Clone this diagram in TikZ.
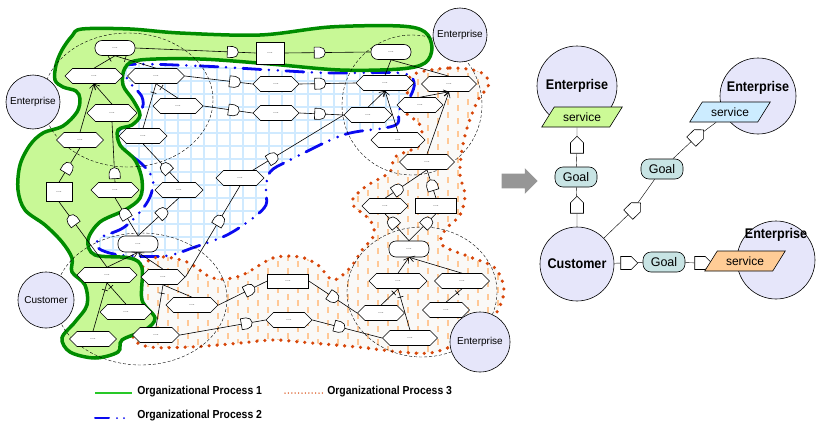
\documentclass[tikz,border=0pt]{standalone}
\usepackage{fontspec}
\setmainfont{Liberation Sans}
\newfontfamily\narrowsf[FakeStretch=0.9]{Liberation Sans}
\usetikzlibrary{arrows.meta,positioning,calc,shapes.geometric,shapes.misc,shapes.symbols,shapes.arrows,backgrounds}

\definecolor{opgreen}{RGB}{0,140,0}
\definecolor{opgreenfill}{RGB}{200,248,150}
\definecolor{legendgreen}{RGB}{40,200,40}
\definecolor{opblue}{RGB}{10,10,240}
\definecolor{gridblue}{RGB}{208,234,255}
\definecolor{opred}{RGB}{215,70,10}
\definecolor{dashorange}{RGB}{255,200,150}
\definecolor{hatchbg}{RGB}{250,249,247}
\definecolor{entfill}{RGB}{230,230,250}
\definecolor{goalfill}{RGB}{200,228,228}
\definecolor{srvgreen}{RGB}{204,250,150}
\definecolor{srvblue}{RGB}{204,236,255}
\definecolor{srvorange}{RGB}{255,204,150}
\definecolor{arrowgray}{RGB}{150,150,150}
\definecolor{dotgray}{RGB}{90,90,90}

\tikzset{
  hexblk/.style={draw,fill=white,signal,signal to=east and west,minimum width=48pt,minimum height=15pt,inner sep=0pt,font=\fontsize{7}{7}\selectfont,text=dotgray},
  rndblk/.style={draw,fill=white,rectangle,rounded corners=7pt,minimum width=40pt,minimum height=15pt,inner sep=0pt,font=\fontsize{7}{7}\selectfont,text=dotgray},
  sqblk/.style={draw,fill=white,rectangle,minimum width=41pt,minimum height=14pt,inner sep=0pt,font=\fontsize{7}{7}\selectfont,text=dotgray},
  gateblk/.style={draw,fill=white,rounded rectangle,rounded rectangle left arc=none,minimum width=8pt,minimum height=11pt,inner sep=0pt,sloped,allow upside down},
  tckmark/.style={draw,rectangle,minimum width=0pt,minimum height=6pt,inner sep=0pt,sloped},
  entnode/.style={circle,draw,fill=entfill,inner sep=0pt,minimum size=54pt,font=\fontsize{10}{12}\selectfont},
  entbig/.style={circle,draw,fill=entfill,inner sep=0pt,minimum size=80pt,font=\narrowsf\bfseries\fontsize{14}{16}\selectfont},
  entlbl/.style={font=\narrowsf\bfseries\fontsize{14}{16}\selectfont,inner sep=0pt},
  srvblk/.style={draw,trapezium,trapezium left angle=58,trapezium right angle=122,minimum height=20pt,inner ysep=1pt,inner xsep=-4pt,font=\fontsize{12}{14}\selectfont},
  goalblk/.style={draw,fill=goalfill,rectangle,rounded corners=8pt,minimum width=42pt,minimum height=20pt,inner sep=0pt,font=\fontsize{12.5}{14}\selectfont},
  pentblk/.style={draw,fill=white,signal,signal to=east,minimum width=17pt,minimum height=13pt,inner sep=0pt},
  arr/.style={-{Straight Barb[length=5pt,width=6pt]}},
  legtxt/.style={anchor=west,inner sep=0pt,font=\narrowsf\bfseries\fontsize{11.6}{14}\selectfont}
}

\def\greenregion{plot[smooth cycle,tension=0.55] coordinates {(82,29) (130,29) (180,33) (260,35) (330,27) (400,26) (425,32) (432,48) (425,63) (400,69) (340,70) (270,64) (200,59) (140,60) (125,68) (123,85) (133,100) (140,115) (132,125) (118,130) (120,145) (135,160) (142,180) (140,198) (125,210) (100,222) (88,240) (95,255) (130,258) (142,268) (142,300) (155,318) (145,330) (122,340) (118,352) (95,358) (70,352) (62,338) (75,322) (87,305) (85,285) (72,272) (72,258) (62,242) (45,225) (25,210) (18,190) (20,165) (30,145) (43,133) (63,126) (77,112) (80,99) (76,91) (63,87) (55,80) (56,65) (62,50) (72,36)}}
\def\blueregion{plot[smooth cycle,tension=0.55] coordinates {(127,65) (200,66) (270,70) (330,73) (400,73) (414,82) (410,97) (399,110) (398,123) (385,128) (343,135) (290,160) (270,172) (266,190) (266,205) (253,218) (227,235) (195,247) (165,256) (120,255) (98,248) (100,238) (123,228) (140,212) (150,197) (153,180) (143,165) (122,148) (115,135) (140,112) (142,97) (128,80)}}
\def\orangeregion{plot[smooth cycle,tension=0.55] coordinates {(412,75) (450,68) (480,72) (489,84) (478,100) (468,125) (462,150) (460,175) (465,195) (460,215) (445,230) (442,245) (470,257) (495,268) (504,290) (497,312) (483,332) (455,345) (430,353) (400,352) (357,347) (300,342) (273,340) (230,344) (190,347) (150,347) (133,337) (134,300) (142,268) (158,257) (187,262) (213,278) (240,276) (273,258) (300,257) (318,265) (333,280) (350,268) (362,250) (374,235) (370,220) (352,203) (365,187) (390,172) (395,157) (420,145) (420,125) (403,110) (407,95)}}

\begin{document}
\begin{tikzpicture}[x=1pt,y=-1pt,line width=0.6pt]
  \useasboundingbox (0,0) rectangle (816,423);

  % enterprise / customer circles
  \node[entnode] (entl) at (33,102) {Enterprise};
  \node[entnode] (entt) at (460,35) {Enterprise};
  \node[entnode,minimum size=60pt] (entb) at (480,342) {Enterprise};
  \node[entnode,minimum size=56pt] (custl) at (46,300) {Customer};

  % top band
  \node[rndblk] (r1) at (115,48) {...};
  \node[sqblk,minimum width=28pt,minimum height=22pt] (sq1) at (270,53) {...};
  \node[rndblk] (r2) at (391,52) {...};
  \node[hexblk,minimum width=58pt] (h1) at (94,76) {...};
  \node[hexblk,minimum width=57pt] (h2) at (156,76) {...};
  \node[hexblk,minimum width=46pt] (h3) at (276,84) {...};
  \node[hexblk,minimum width=58pt] (h4) at (385,83) {...};
  \node[hexblk,minimum width=50pt] (h5) at (178,106) {...};
  \node[hexblk,minimum width=46pt] (h6) at (276,113) {...};
  \node[hexblk] (h7) at (368,115) {...};
  \node[hexblk,minimum width=50pt,minimum height=17pt] (h8) at (112,113) {...};
  \node[hexblk,minimum width=47pt] (h9) at (80,140) {...};
  \node[hexblk] (h10) at (143,136) {...};
  \node[sqblk,minimum width=26pt,minimum height=19pt] (s1) at (59,192) {...};
  \node[hexblk] (h11) at (115,190) {...};
  \node[hexblk] (h13) at (179,190) {...};
  \node[hexblk] (h14) at (240,178) {...};
  \node[rndblk,minimum height=16pt] (r3) at (138,244) {...};

  % lower left
  \node[hexblk,minimum width=60pt] (h12) at (107,275) {...};
  \node[hexblk,minimum width=44pt] (h16) at (163,277) {...};
  \node[hexblk,minimum width=52pt] (h17) at (126,312) {...};
  \node[hexblk,minimum width=47pt] (h18) at (93,339) {...};
  \node[hexblk,minimum width=52pt] (h19) at (192,305) {...};
  \node[hexblk,minimum width=47pt] (h20) at (156,335) {...};
  \node[sqblk] (s2) at (288,281) {...};
  \node[hexblk,minimum width=46pt] (h22) at (289,320) {...};

  % right cluster
  \node[hexblk,minimum width=55pt] (h29) at (449,84) {...};
  \node[hexblk,minimum width=46pt] (h30) at (420,105) {...};
  \node[hexblk,minimum width=54pt] (h31) at (398,140) {...};
  \node[hexblk,minimum width=55pt] (h28) at (427,162) {...};
  \node[hexblk,minimum width=46pt] (h24) at (385,206) {...};
  \node[sqblk,minimum height=15pt] (s3) at (436,206) {...};
  \node[rndblk,minimum height=16pt] (r4) at (409,249) {...};
  \node[hexblk,minimum width=58pt] (h25) at (398,281) {...};
  \node[hexblk,minimum width=55pt] (h26) at (462,281) {...};
  \node[hexblk,minimum width=47pt] (h27) at (446,310) {...};
  \node[hexblk,minimum width=47pt] (h21) at (381,313) {...};
  \node[hexblk,minimum width=55pt] (h23) at (410,338) {...};

  % chains with gates
  \draw (r1.east) -- node[gateblk,pos=0.81]{} (sq1.west);
  \draw (sq1.east) -- node[gateblk,pos=0.41]{} (r2.west);
  \draw (h2.east) -- node[gateblk,pos=0.74]{} (h3.west);
  \draw (h3.east) -- node[gateblk,pos=0.37]{} (h4.west);
  \draw (h5.east) -- node[gateblk,pos=0.62]{} (h6.west);
  \draw (h6.east) -- node[gateblk,pos=0.47]{} (h7.west);
  \draw (h14) -- node[gateblk,pos=0.22]{} (h7.west);
  \draw (s1.north) -- node[gateblk,pos=0.42]{} (h9.south);
  \draw (h12.north) -- node[gateblk,pos=0.72]{} (s1.south);
  \draw (h11.north) -- node[gateblk,pos=0.15]{} (h8.south);
  \draw (r3.north) -- node[gateblk,pos=0.58]{} (h11.south);
  \draw (r3.north) -- node[gateblk,pos=0.6]{} (h13.south);
  \draw (h13.north) -- node[gateblk,pos=0.37]{} (h10.south);
  \draw (h16.east) -- node[gateblk,pos=0.62]{} (h14.south);
  \draw (h19.east) -- node[gateblk,pos=0.64]{} (s2.west);
  \draw (s2.east) -- node[gateblk,pos=0.51]{} (h21.west);
  \draw (h20.east) -- node[gateblk,pos=0.78]{} (h22.west);
  \draw (h22.east) -- node[gateblk,pos=0.39]{} (h23.west);
  \draw (h24.north) -- node[gateblk,pos=0.31]{} (h28.south);
  \draw (s3.north) -- node[gateblk,pos=0.46]{} (h28.south);
  \draw (r4.north) -- node[gateblk,pos=0.68]{} (h24.south);
  \draw (r4.north) -- node[gateblk,pos=0.68]{} (s3.south);

  % decomposition links
  \draw (h1.north) -- node[tckmark,pos=0.75]{} (r1.south);
  \draw (h2.north) -- node[tckmark,pos=0.75]{} (r1.south);
  \draw (h10.north) -- node[tckmark,pos=0.8]{} (h2.south);
  \draw (h5.north) -- node[tckmark,pos=0.75]{} (h2.south);
  \draw (h4.north) -- (r2.south);
  \draw (h29.north) -- (r2.south);
  \draw (h17.north) -- node[tckmark,pos=0.8]{} (h12.south);
  \draw (h18.north) -- node[tckmark,pos=0.85]{} (h12.south);
  \draw (h19.north) -- (h16.south);
  \draw (h20.north) -- node[tckmark,pos=0.8]{} (h16.south);
  \draw (h21.north) -- node[tckmark,pos=0.75]{} (h25.south);
  \draw (h23.north) -- node[tckmark,pos=0.8]{} (h25.south);
  \draw (h27.north) -- node[tckmark,pos=0.7]{} (h26.south);

  % contribution arrows
  \draw[arr] (h9.north) -- (h1.south);
  \draw[arr] (h8.north) -- (h1.south);
  \draw[arr] (h12.north) -- (r3.south);
  \draw[arr] (h16.north) -- (r3.south);
  \draw[arr] (h7.north) -- (h4.south);
  \draw[arr] (h31.north) -- (h4.south);
  \draw[arr] (h30.north) -- (h29.south);
  \draw[arr] (h28.north) -- (h29.south);
  \draw[arr] (h25.north) -- (r4.south);
  \draw[arr] (h26.north) -- (r4.south);

  % process regions
  \begin{scope}[on background layer]
    \begin{scope}
      \clip \blueregion;
      \foreach \gx in {100,113,...,425} \draw[gridblue,line width=1.4pt] (\gx,50) -- (\gx,270);
      \foreach \gy in {55,68,...,270} \draw[gridblue,line width=1.4pt] (95,\gy) -- (425,\gy);
    \end{scope}
    \begin{scope}
      \clip \orangeregion;
      \fill[hatchbg] (125,60) rectangle (510,360);
      \foreach \hx in {128,148,...,508} \foreach \hy in {60,73,...,360} \draw[dashorange,line width=1.3pt] (\hx,\hy) -- ++(0,6);
      \foreach \hx in {138,158,...,508} \foreach \hy in {66,79,...,360} \draw[dashorange,line width=1.3pt] (\hx,\hy) -- ++(0,6);
    \end{scope}
    \draw[opblue,line width=2.8pt,line cap=round,dash pattern=on 18pt off 8pt on 0pt off 9pt on 0pt off 8pt] \blueregion;
    \draw[opred,line width=3.6pt,line cap=round,dash pattern=on 0pt off 8pt] \orangeregion;
    \fill[opgreenfill] \greenregion;
    \draw[opgreen,line width=3.5pt] \greenregion;
    \draw[dashed,dash pattern=on 3pt off 2pt] (128,100) ellipse [x radius=85,y radius=67];
    \draw[dashed,dash pattern=on 3pt off 2pt] (412,105) circle [radius=70];
    \draw[dashed,dash pattern=on 3pt off 2pt] (141,299) ellipse [x radius=86,y radius=66];
    \draw[dashed,dash pattern=on 3pt off 2pt] (422,292) ellipse [x radius=75,y radius=65];
  \end{scope}

  % transformation arrow
  \node[single arrow,fill=arrowgray,draw=none,inner sep=7pt,minimum height=36pt,single arrow head extend=5.5pt] (shift) at (516,181) {};

  % abstracted view
  \node[entbig] (ent1) at (577,86) {Enterprise};
  \node[srvblk,fill=srvgreen] (srv1) at (582,117) {service};
  \node[pentblk,rotate=90] (pt1) at (577,148) {};
  \node[goalblk] (goal1) at (576,177) {Goal};
  \node[pentblk,rotate=90] (pt2) at (577,208) {};
  \node[entbig,minimum size=74pt] (cust) at (577,264) {Customer};
  \node[pentblk,rotate=44] (pt3) at (632,211) {};
  \node[goalblk] (goal2) at (662,169) {Goal};
  \node[pentblk,rotate=44] (pt4) at (695,138) {};
  \node[entbig,minimum size=76pt,label={[entlbl,yshift=8pt]center:Enterprise}] (ent2) at (758,96) {};
  \node[srvblk,fill=srvblue] (srv2) at (730,112) {service};
  \node[pentblk] (pt5) at (626,263) {};
  \node[goalblk] (goal3) at (664,262) {Goal};
  \node[pentblk] (pt6) at (700,263) {};
  \node[entbig,minimum size=78pt,label={[entlbl,yshift=25pt]center:Enterprise}] (ent3) at (776,260) {};
  \node[srvblk,fill=srvorange] (srv3) at (745,261) {service};

  \begin{scope}[on background layer]
    \draw (pt1 |- srv1.south) -- (pt1) -- (goal1) -- (pt2) -- (cust);
    \draw (cust) -- (pt3) -- (goal2) -- (pt4) -- (srv2);
    \draw (cust) -- (pt5) -- (goal3) -- (pt6) -- (srv3);
  \end{scope}

  % legend
  \coordinate (lg1a) at (95,393);
  \coordinate (lg1b) at (132,393);
  \coordinate (lg2a) at (95,418);
  \coordinate (lg2b) at (128,418);
  \coordinate (lg3a) at (285,393);
  \coordinate (lg3b) at (323,393);
  \draw[legendgreen,line width=2pt] (lg1a) -- (lg1b);
  \draw[opblue,line width=2pt,line cap=round,dash pattern=on 14pt off 8pt on 0pt off 7pt on 0pt off 7pt] (lg2a) -- (lg2b);
  \draw[opred,line width=1.5pt,line cap=round,dash pattern=on 0pt off 3.4pt] (lg3a) -- (lg3b);
  \node[legtxt] (leg1) at (137,392) {Organizational Process 1};
  \node[legtxt] (leg2) at (137,416) {Organizational Process 2};
  \node[legtxt] (leg3) at (327,392) {Organizational Process 3};
\end{tikzpicture}
\end{document}
